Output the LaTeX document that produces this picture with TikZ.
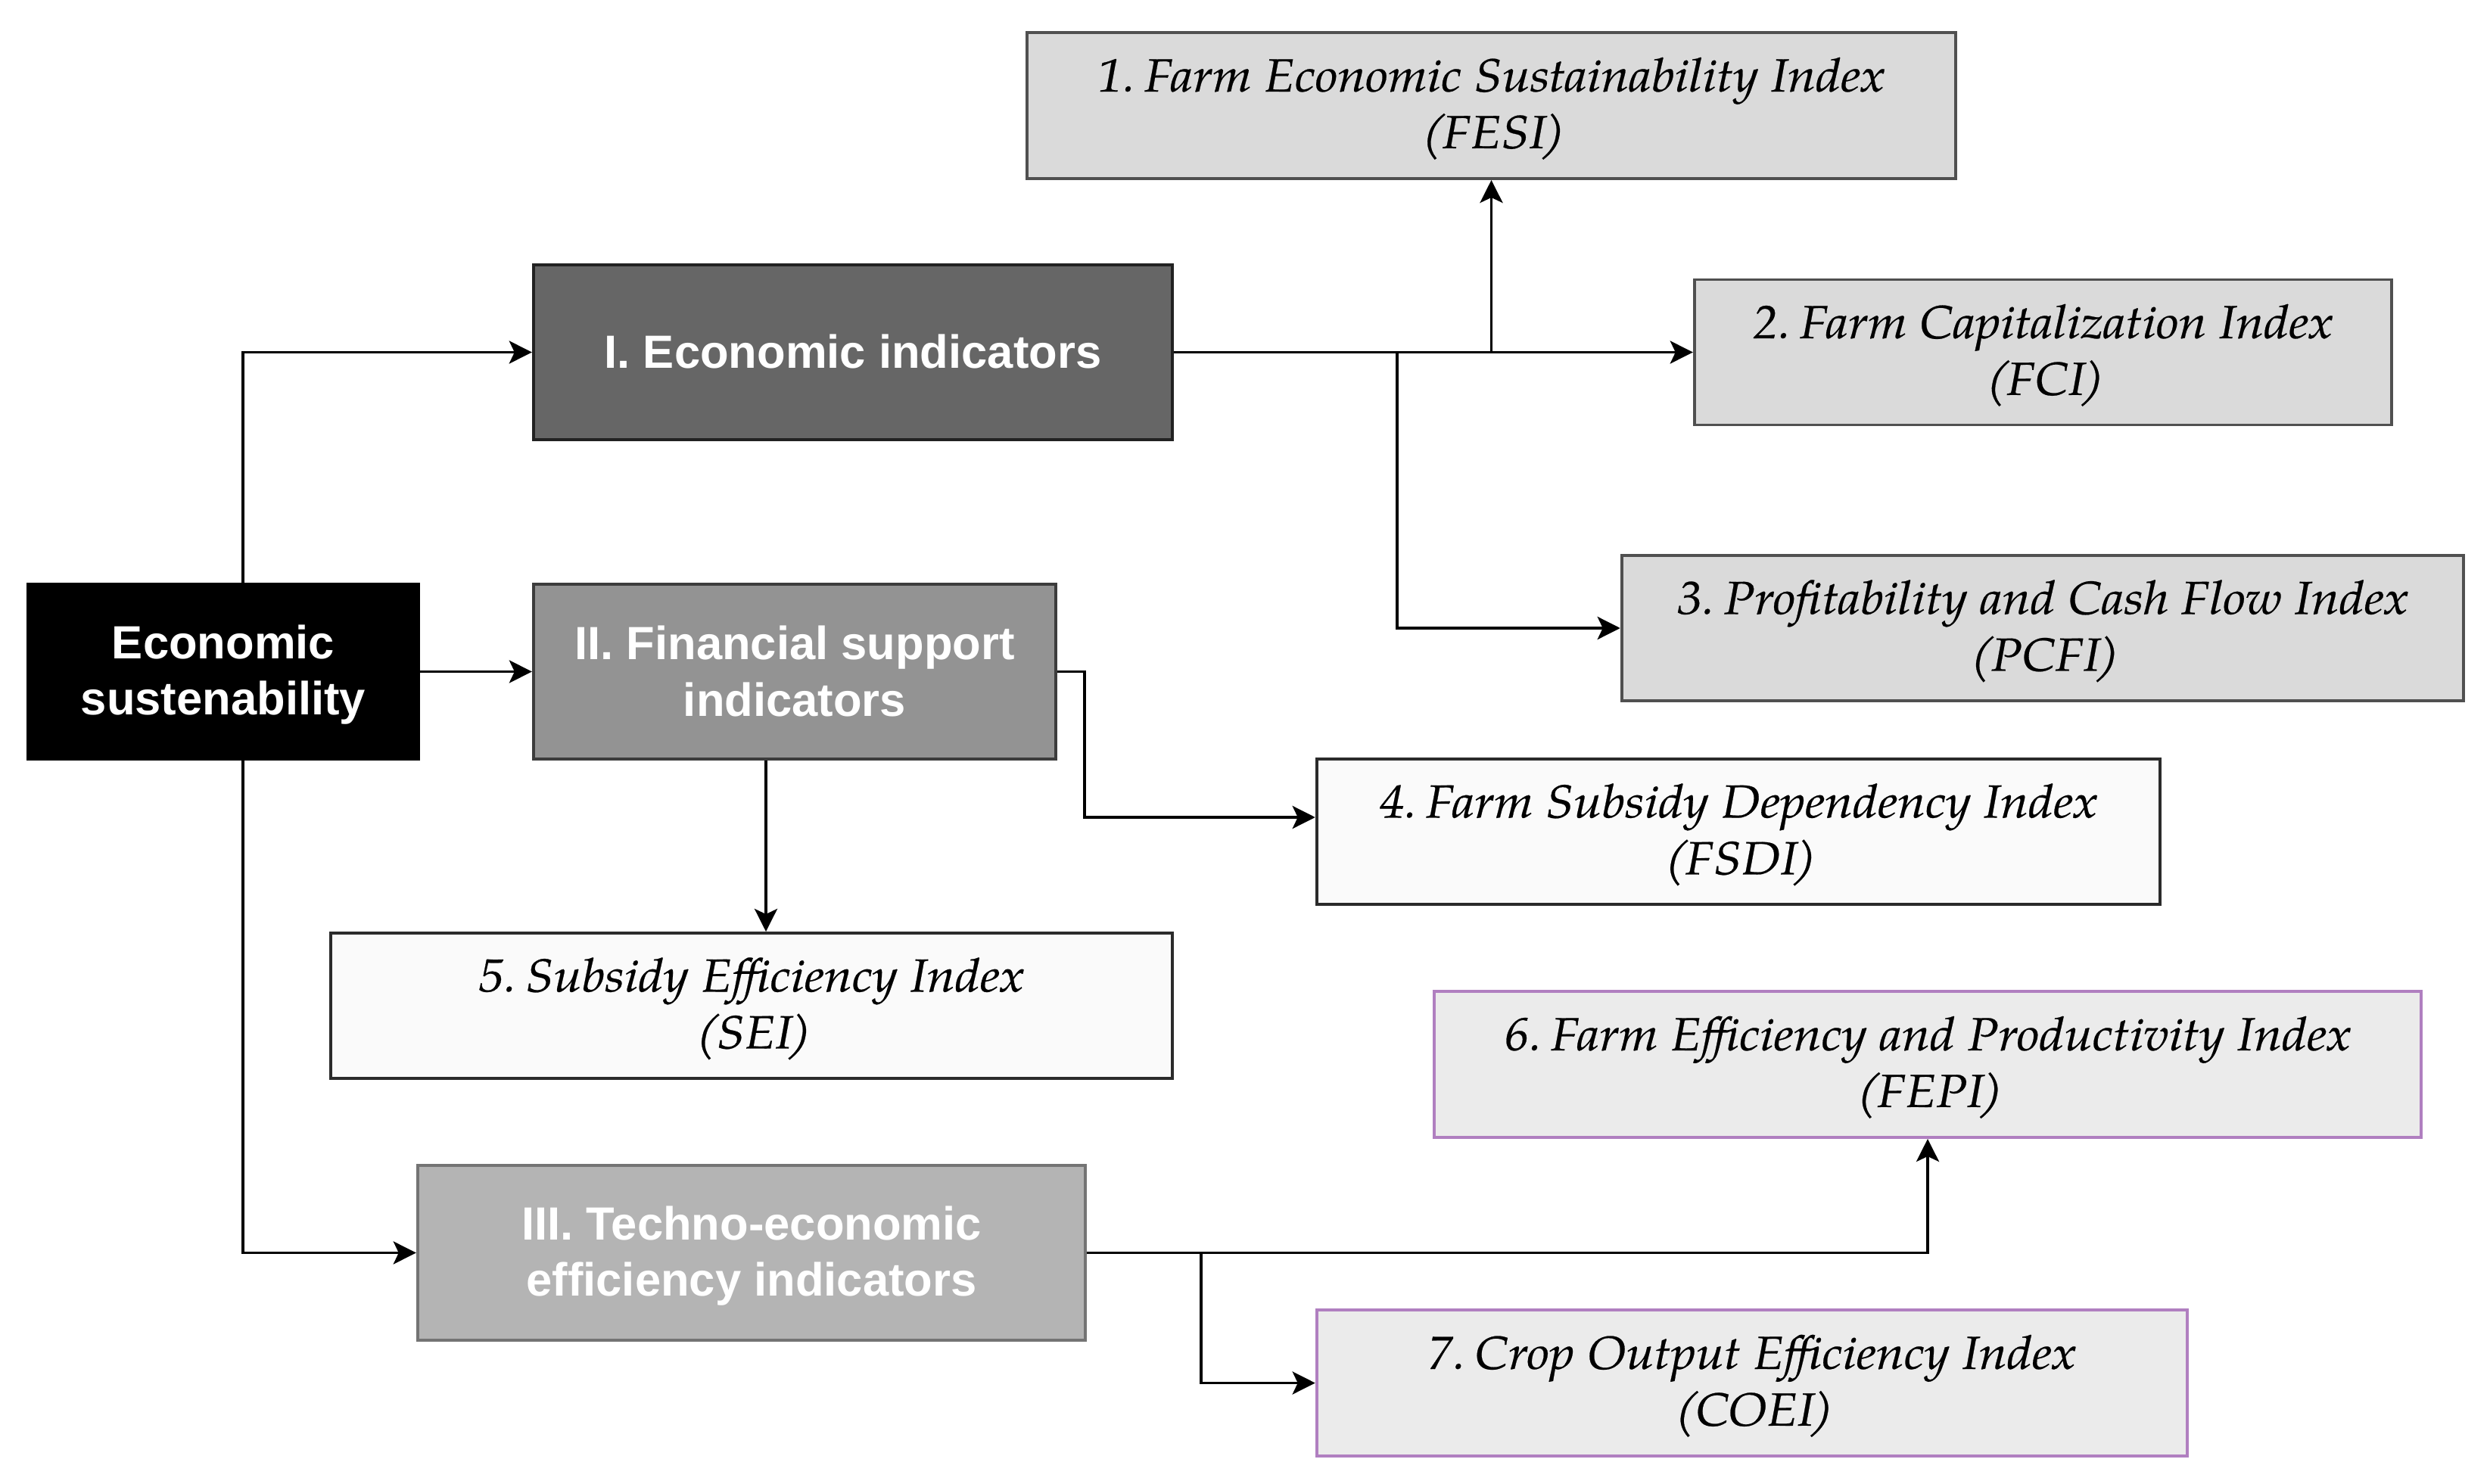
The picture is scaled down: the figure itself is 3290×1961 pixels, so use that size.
\documentclass[tikz,border=0pt]{standalone}
\usepackage{fontspec}
\setsansfont{Liberation Sans}
\newfontfamily\palfont[FakeStretch=1.08,FakeBold=0.4]{TeX Gyre Pagella}
\newfontfamily\palslant[FakeStretch=1.08,FakeBold=0.4,FakeSlant=0.2]{TeX Gyre Pagella}
\usetikzlibrary{arrows.meta}
\definecolor{cI}{HTML}{666666}
\definecolor{cII}{HTML}{939393}
\definecolor{cIII}{HTML}{B4B4B4}
\definecolor{cgray}{HTML}{DADADA}
\definecolor{cwhite}{HTML}{FAFAFA}
\definecolor{cpurfill}{HTML}{EBEBEB}
\definecolor{cpur}{HTML}{B07FC0}
\definecolor{cborderI}{HTML}{222222}
\definecolor{cborderII}{HTML}{3C3C3C}
\definecolor{cborderIII}{HTML}{747474}
\definecolor{cborder}{HTML}{2B2B2B}
\definecolor{cgborder}{HTML}{505050}
\newcommand\tstr{\rule{0pt}{15pt}}
\newcommand\bstr{\rule[-3pt]{0pt}{3pt}}
\newcommand\nsp{\hspace{0.2em}}
\newcommand\abbr[1]{{\palslant(}#1\kern-0.13em{\palslant)}}
\begin{document}
\begin{tikzpicture}[x=0.01cm,y=-0.01cm,
  base/.style={rectangle, inner sep=0pt, line width=1.1pt, align=center,
    font=\fontsize{17.5}{21.3}\selectfont},
  catbox/.style 2 args={base, fill=#1, draw=#2, text=white,
    font=\fontsize{17.5}{21.3}\selectfont\sffamily\bfseries},
  idxgray/.style={base, fill=cgray, draw=cgborder, font=\fontsize{17.5}{21.3}\selectfont\palfont\itshape},
  idxwhite/.style={base, fill=cwhite, draw=cborder, font=\fontsize{17.5}{21.3}\selectfont\palfont\itshape},
  idxpur/.style={base, fill=cpurfill, draw=cpur, font=\fontsize{17.5}{21.3}\selectfont\palfont\itshape},
  arr/.style={line width=1.1pt, -{Stealth[length=0.3cm, width=0.3cm, inset=0.07cm]}}]
\useasboundingbox (0,0) rectangle (3290,1961);
\fill[white] (0,0) rectangle (3290,1961);

\node[catbox={black}{black}, minimum width=5.16cm, minimum height=2.31cm] (es) at (295,887.5) {\tstr Economic\\sustenability\bstr};
\node[catbox={cI}{cborderI}, minimum width=8.44cm, minimum height=2.31cm] (I) at (1127,465.5) {\tstr I. Economic indicators\bstr};
\node[catbox={cII}{cborderII}, minimum width=6.90cm, minimum height=2.31cm] (II) at (1050,887.5) {\tstr II. Financial support\\indicators\bstr};
\node[catbox={cIII}{cborderIII}, minimum width=8.82cm, minimum height=2.31cm] (III) at (993,1655.5) {\tstr III. Techno-economic\\efficiency indicators\bstr};

\node[idxgray, minimum width=12.27cm, minimum height=1.93cm] (fesi) at (1970.5,139.5) {\tstr 1.\nsp Farm Economic Sustainability Index\\\abbr{FESI}\bstr};
\node[idxgray, minimum width=9.21cm, minimum height=1.92cm] (fci) at (2699.5,465.5) {\tstr 2.\nsp Farm Capitalization Index\\\abbr{FCI}\bstr};
\node[idxgray, minimum width=11.12cm, minimum height=1.92cm] (pcfi) at (2699,830) {\tstr 3.\nsp Profitability and Cash Flow Index\\\abbr{PCFI}\bstr};
\node[idxwhite, minimum width=11.14cm, minimum height=1.92cm] (fsdi) at (2297,1099) {\tstr 4.\nsp Farm Subsidy Dependency Index\\\abbr{FSDI}\bstr};
\node[idxwhite, minimum width=11.12cm, minimum height=1.92cm] (sei) at (993,1329) {\tstr 5.\nsp Subsidy Efficiency Index\\\abbr{SEI}\bstr};
\node[idxpur, minimum width=13.04cm, minimum height=1.93cm] (fepi) at (2547,1406.5) {\tstr 6.\nsp Farm Efficiency and Productivity Index\\\abbr{FEPI}\bstr};
\node[idxpur, minimum width=11.50cm, minimum height=1.93cm] (coei) at (2315,1827.5) {\tstr 7.\nsp Crop Output Efficiency Index\\\abbr{COEI}\bstr};

\coordinate (jes) at (321,887.5);
\coordinate (jpcfi) at (1846,465.5);
\coordinate (jfsdi) at (1433,1080);
\coordinate (jsei) at (1012,1003);
\coordinate (jcoei) at (1587,1655.5);

\draw[arr] (es.north -| jes) |- (I.west);
\draw[arr] (es.east) -- (II.west);
\draw[arr] (es.south -| jes) |- (III.west);

\draw[arr] (I.east) -- (fci.west);
\draw[arr] (fesi.south |- I.east) -- (fesi.south);
\draw[arr] (jpcfi) |- (pcfi.west);

\draw[arr] (II.east) -| (jfsdi) -- (fsdi.west |- jfsdi);
\draw[arr] (II.south -| jsei) -- (sei.north -| jsei);

\draw[arr] (III.east) -| (fepi.south);
\draw[arr] (jcoei) |- (coei.west);
\end{tikzpicture}
\end{document}
